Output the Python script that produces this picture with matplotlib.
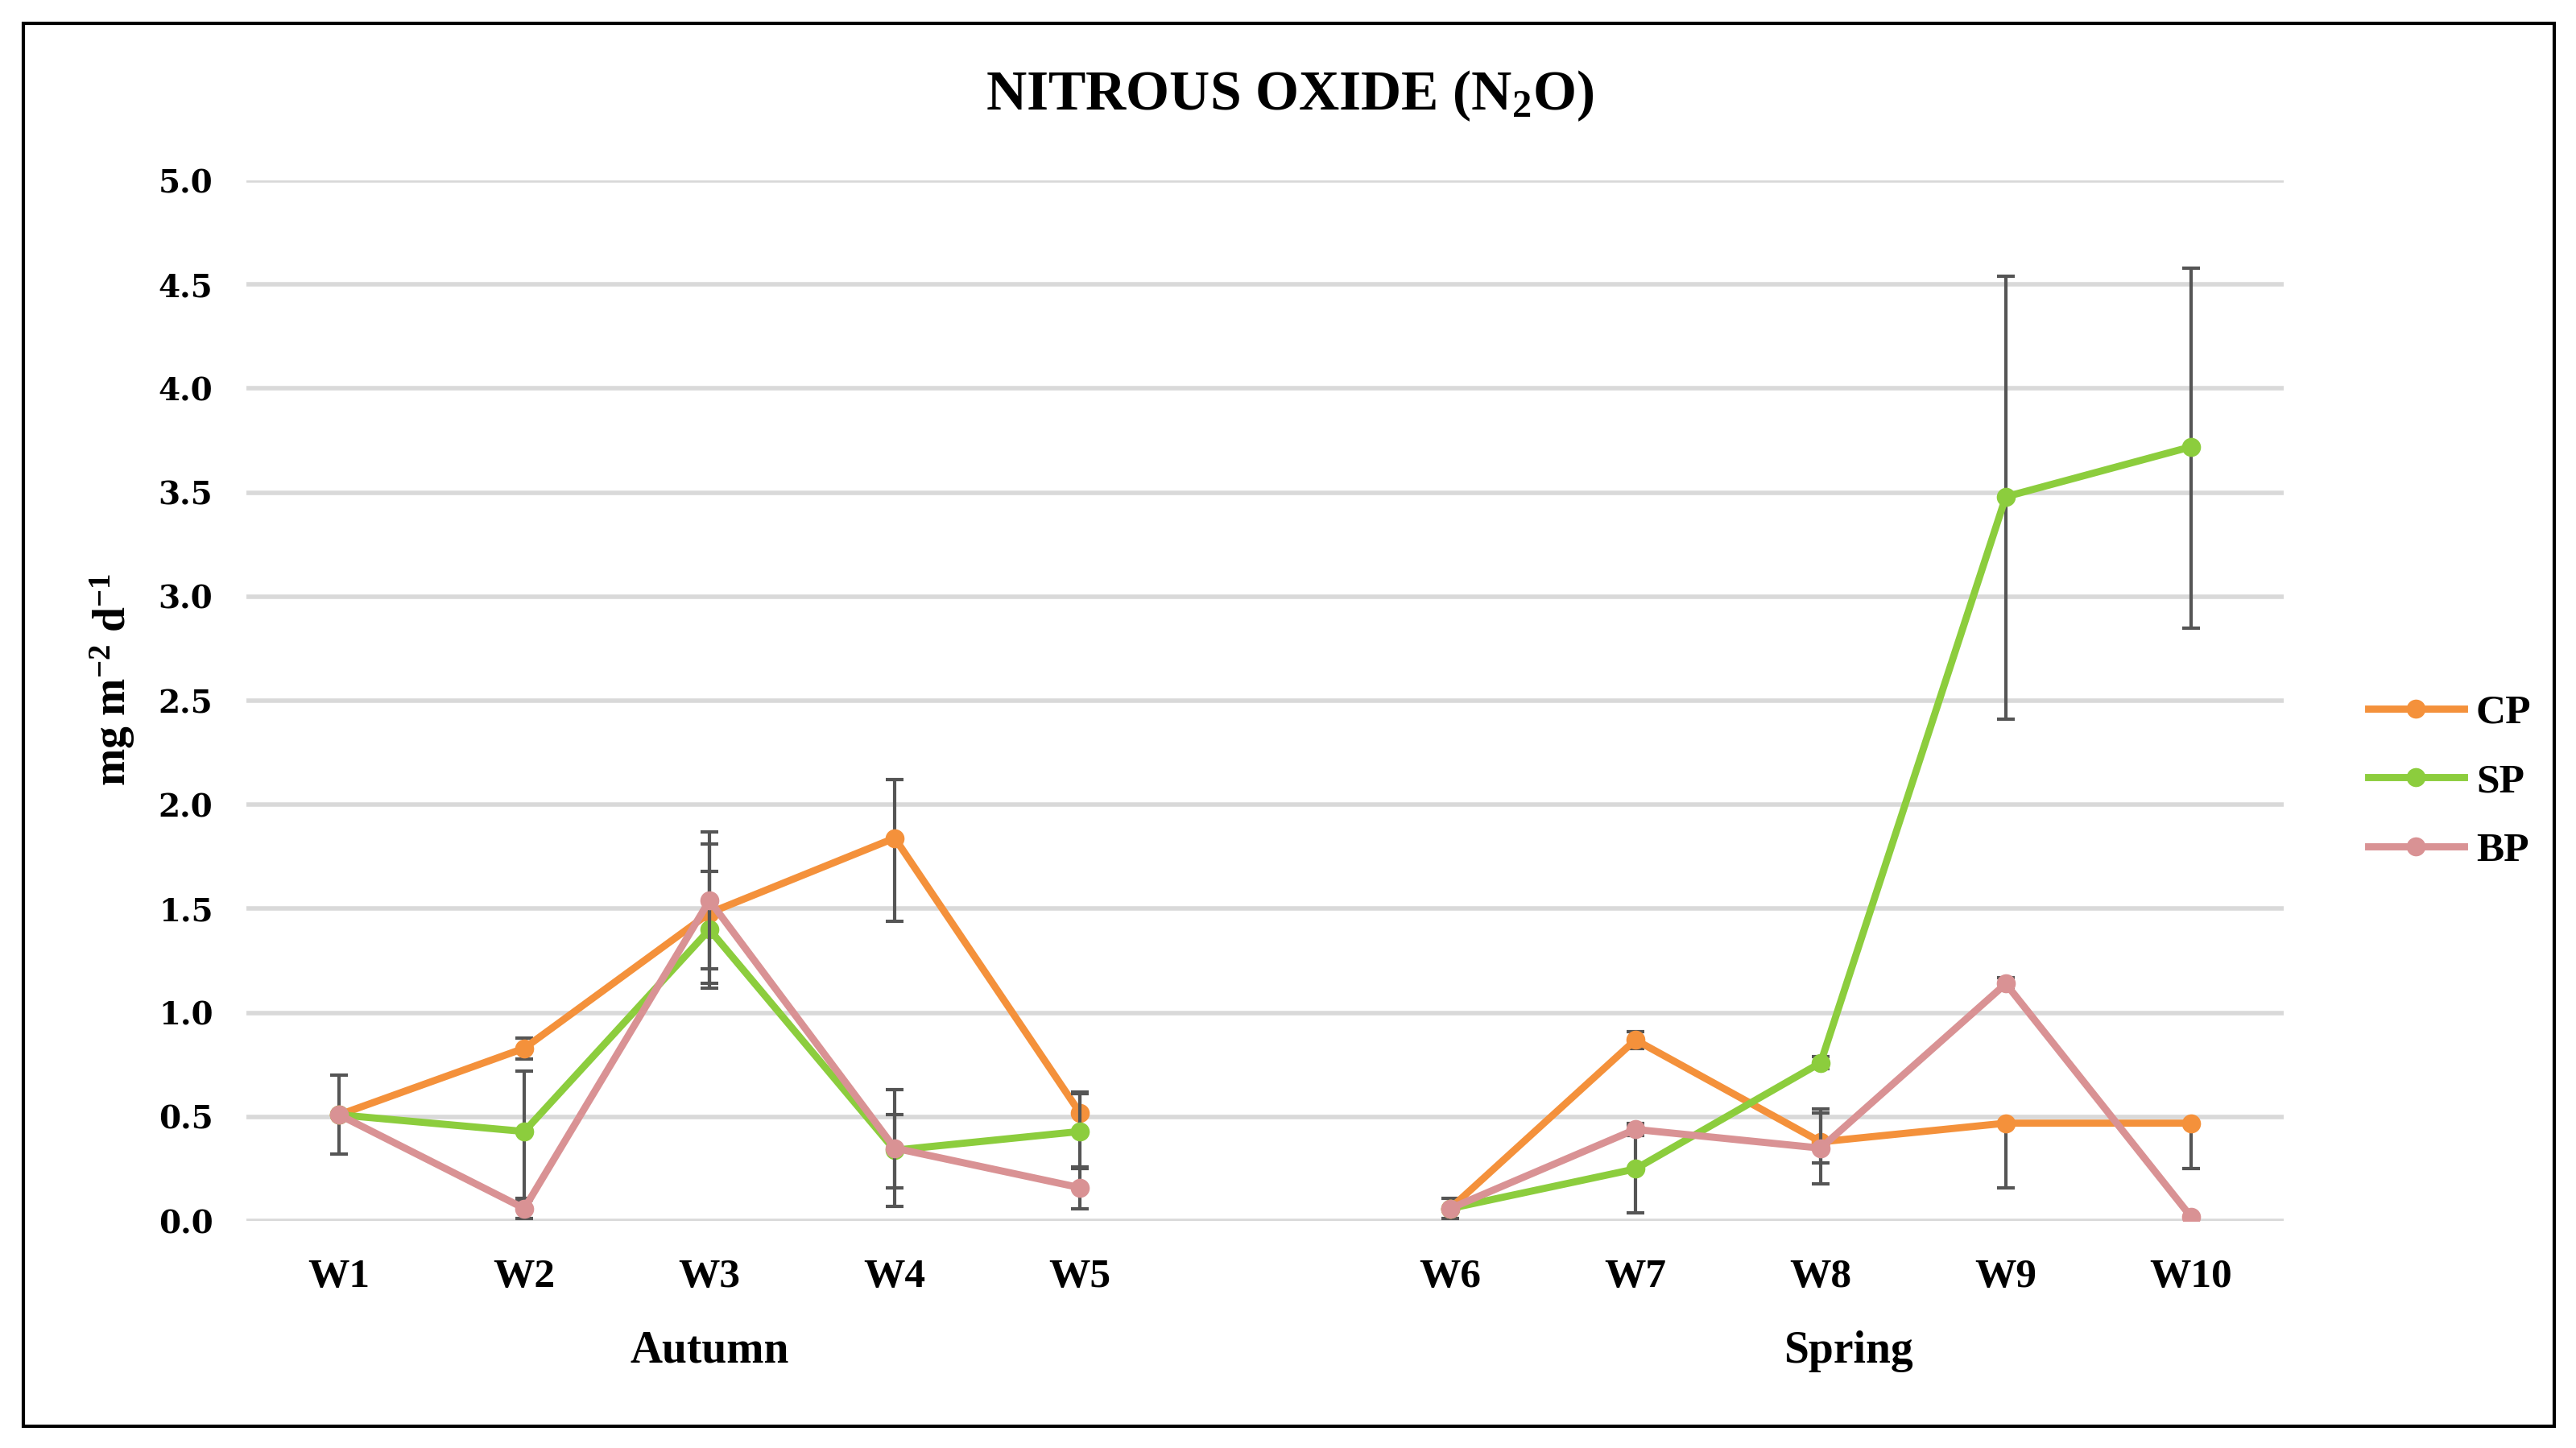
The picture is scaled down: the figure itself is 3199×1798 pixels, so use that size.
import matplotlib
matplotlib.use('Agg')
import matplotlib.pyplot as plt
from matplotlib.patches import Rectangle
import numpy as np

plt.rcParams['font.family'] = ['Liberation Serif', 'DejaVu Serif']
plt.rcParams['mathtext.fontset'] = 'custom'
plt.rcParams['mathtext.rm'] = 'Liberation Serif:bold'
plt.rcParams['mathtext.bf'] = 'Liberation Serif:bold'
plt.rcParams['mathtext.default'] = 'regular'

weeks = ['W1', 'W2', 'W3', 'W4', 'W5', 'W6', 'W7', 'W8', 'W9', 'W10']
seasons = ['Autumn', 'Spring']

cp = [0.51, 0.83, 1.48, 1.84, 0.52, 0.06, 0.87, 0.38, 0.47, 0.47]
cp_lo = [0.19, 0.05, 0.34, 0.40, 0.10, 0.05, 0.04, 0.10, 0.31, 0.22]
cp_hi = [0.19, 0.05, 0.33, 0.28, 0.10, 0.05, 0.04, 0.16, 0.0, 0.0]

sp = [0.51, 0.43, 1.40, 0.34, 0.43, 0.06, 0.25, 0.76, 3.48, 3.72]
sp_lo = [0.0, 0.33, 0.28, 0.27, 0.18, 0.0, 0.21, 0.03, 1.07, 0.87]
sp_hi = [0.0, 0.29, 0.28, 0.29, 0.18, 0.0, 0.21, 0.03, 1.06, 0.86]

bp = [0.51, 0.06, 1.54, 0.35, 0.16, 0.06, 0.44, 0.35, 1.14, 0.02]
bp_lo = [0.0, 0.05, 0.33, 0.19, 0.10, 0.0, 0.03, 0.17, 0.03, 0.0]
bp_hi = [0.0, 0.05, 0.33, 0.16, 0.10, 0.0, 0.03, 0.17, 0.03, 0.0]

series = [
    ('CP', cp, cp_lo, cp_hi, '#F4913B'),
    ('SP', sp, sp_lo, sp_hi, '#8CCD3D'),
    ('BP', bp, bp_lo, bp_hi, '#D99294'),
]

# empty slot between the two seasons
x = np.array([0, 1, 2, 3, 4, 6, 7, 8, 9, 10])

fig = plt.figure(figsize=(15.995, 8.99), dpi=200)
ax = fig.add_axes([0.0957, 0.1568, 0.7908, 0.7186])

handles = []
for i, (name, vals, lo, hi, col) in enumerate(series):
    xs = np.insert(x.astype(float), 5, 5.0)
    ys = np.insert(np.array(vals, dtype=float), 5, np.nan)
    ln, = ax.plot(xs, ys, color=col, lw=3.2, marker='o', ms=7.5,
                  zorder=3 + i * 2, label=name)
    handles.append(ln)
    ax.errorbar(x, vals, yerr=[lo, hi], fmt='none', ecolor='#555555',
                elinewidth=1.5, capsize=4, capthick=1.5, zorder=2 + i * 2)

ax.set_xlim(-0.5, 10.5)
ax.set_ylim(0, 5)
yt = np.arange(0, 5.01, 0.5)
ax.set_yticks(yt)
ax.set_yticklabels([f'{v:.1f}' for v in yt], fontsize=14, fontweight='bold',
                   family='DejaVu Serif')
ax.set_xticks(x)
ax.set_xticklabels(weeks, fontsize=18.5, fontweight='bold')
ax.tick_params(axis='both', length=0)
ax.tick_params(axis='y', pad=15)
ax.tick_params(axis='x', pad=17)
ax.grid(axis='y', color='#D9D9D9', lw=2)
ax.set_axisbelow(True)
for s in ax.spines.values():
    s.set_visible(False)

trans = ax.get_xaxis_transform()
ax.text(2, -0.125, seasons[0], transform=trans, ha='center', va='center',
        fontsize=20, fontweight='bold')
ax.text(8.15, -0.125, seasons[1], transform=trans, ha='center', va='center',
        fontsize=20, fontweight='bold')

ax.set_ylabel(r'mg m$^{-2}$ d$^{-1}$', fontsize=20, fontweight='bold')
ax.yaxis.set_label_coords(-0.054, 0.52)

fig.text(0.5005, 0.934, r'NITROUS OXIDE (N$_2$O)', ha='center', va='center',
         fontsize=25, fontweight='bold')

fig.legend(handles=handles, loc='center left', bbox_to_anchor=(0.905, 0.46),
           frameon=False, prop={'size': 18.5, 'weight': 'bold'},
           handlelength=2.3, handletextpad=0.3, labelspacing=0.75,
           numpoints=1)

fig.add_artist(Rectangle((29 / 3199, 1 - 1771 / 1798), (3172 - 29) / 3199,
                         (1771 - 29) / 1798, transform=fig.transFigure,
                         fill=False, edgecolor='black', lw=1.5))

fig.savefig('out.png', dpi=200)
